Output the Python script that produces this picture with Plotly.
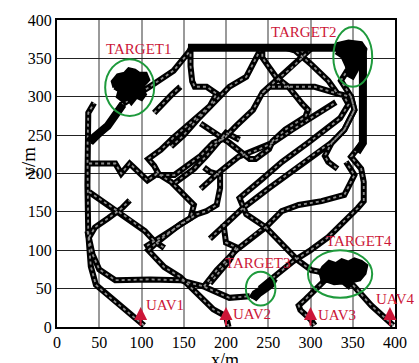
import plotly.graph_objects as go

# ---------------- trajectory data (x/m, y/m) ----------------
uav1_x = [103, 80, 61, 46, 40, 37, 36, 36, 37, 44]
uav1_y = [2, 23, 40, 55, 79, 121, 185, 228, 279, 292]

main_x = [40, 60, 77, 95, 115, 138, 154, 160, 250, 359, 363, 363, 362, 348, 360, 363, 363, 356, 340, 321, 300, 280, 262, 248, 240]
main_y = [240, 262, 290, 302, 317, 334, 355, 364, 364, 364, 350, 300, 241, 222, 206, 189, 164, 155, 138, 117, 100, 86, 70, 58, 50]

uav2_x = [203, 200, 185, 166, 146, 127, 108, 118, 131, 146, 166, 177, 189, 193, 193, 181, 174]
uav2_y = [0, 14, 23, 44, 65, 78, 100, 110, 121, 134, 147, 151, 159, 181, 198, 202, 208]

zig_x = [38, 69, 76, 86, 107, 119, 135, 154, 162, 158, 135, 115, 104]
zig_y = [213, 213, 200, 213, 191, 200, 189, 168, 159, 142, 125, 112, 104]

loop_x = [158, 158, 160, 163, 177, 189, 181, 166, 150, 138, 123, 108, 115, 121, 139, 154, 170, 185, 197, 212, 232, 243, 259, 278, 294, 302]
loop_y = [364, 340, 320, 313, 313, 304, 288, 274, 258, 247, 231, 219, 210, 198, 198, 210, 223, 240, 245, 262, 283, 305, 321, 338, 355, 364]

dbl_x = [115, 125, 136, 146]
dbl_y = [279, 291, 303, 313]

ne1_x = [135, 150, 166, 174, 189, 204, 224, 236, 242]
ne1_y = [235, 250, 270, 279, 296, 313, 326, 351, 364]

ne3_x = [140, 146, 162, 177, 187, 200, 216]
ne3_y = [188, 193, 206, 223, 236, 253, 244]

nwse_x = [243, 243, 259, 274, 290, 297, 294, 270, 255, 251, 235, 228, 204, 185, 170]
nwse_y = [364, 351, 326, 313, 291, 283, 274, 257, 242, 232, 219, 219, 240, 255, 265]

uav4_x = [398, 385, 372, 359, 350, 330, 301, 285, 270, 247, 224, 216, 243, 266, 297, 318, 335, 345, 340]
uav4_y = [2, 15, 28, 44, 55, 68, 74, 87, 104, 130, 147, 168, 193, 215, 240, 257, 272, 290, 300]

ne2_x = [181, 200, 220, 251, 282, 313, 325, 340, 352, 348, 336, 344]
ne2_y = [115, 134, 155, 181, 206, 232, 240, 257, 283, 300, 321, 335]

g2_x = [174, 189, 212, 239, 247, 266, 286, 313, 340, 352, 342]
g2_y = [53, 74, 100, 125, 130, 151, 159, 164, 172, 198, 215]

drop_x = [197, 200, 212, 204, 181]
drop_y = [134, 110, 104, 87, 57]

lowloop_x = [36, 42, 50, 69, 110, 146, 173, 190, 204, 228]
lowloop_y = [125, 95, 75, 61, 62, 61, 53, 45, 38, 40]

nwl_x = [38, 61, 84, 104, 115, 127]
nwl_y = [176, 159, 142, 125, 112, 103]

nel_x = [38, 45, 61, 77, 86]
nel_y = [117, 130, 142, 155, 165]

topr_x = [270, 282, 301, 321, 332, 348, 352, 340, 325, 317, 321, 332]
topr_y = [364, 360, 342, 321, 304, 300, 283, 257, 240, 223, 215, 206]

hor_x = [243, 251, 282, 305, 332]
hor_y = [305, 313, 313, 313, 304]

mid_x = [170, 190, 215, 240, 255, 278, 297, 317, 330]
mid_y = [180, 200, 222, 232, 240, 257, 270, 283, 293]

uav3_x = [305, 300, 288, 286, 294, 305, 318, 330]
uav3_y = [2, 10, 22, 28, 36, 48, 62, 72]

# solid heavy parts of the tracks
heavy_x = [38, 60, 78, None, 155, 362, None, 362, 362, 355]
heavy_y = [242, 262, 290, None, 364, 364, None, 364, 240, 228]

# target dwell regions (dense loitering)
t1_x = [68, 66, 72, 80, 85, 92, 97, 105, 108, 103, 100, 104, 100, 94, 88, 84, 78, 72, 74, 68]
t1_y = [312, 320, 328, 330, 336, 334, 330, 330, 322, 316, 310, 303, 297, 300, 292, 298, 295, 300, 308, 312]
t2_x = [330, 345, 360, 365, 363, 358, 355, 350, 345, 343, 338, 330]
t2_y = [368, 372, 370, 362, 352, 345, 335, 325, 328, 340, 352, 358]
t3_x = [229, 233, 240, 247, 254, 258, 255, 248, 240, 234]
t3_y = [38, 45, 50, 57, 63, 60, 54, 48, 42, 35]
t4_x = [310, 315, 322, 330, 337, 345, 352, 360, 366, 364, 358, 350, 345, 338, 328, 320, 312]
t4_y = [68, 78, 85, 82, 87, 84, 88, 85, 80, 70, 62, 60, 52, 58, 57, 60, 60]

# target ellipses: centre and half axes
ell_cx = [86, 350, 241, 335]
ell_cy = [312, 352, 50, 69]
ell_rx = [29, 23, 17.5, 38]
ell_ry = [37, 39, 22, 31]

target_names = ["TARGET1", "TARGET2", "TARGET3", "TARGET4"]
target_lx = [97, 292, 237, 357]
target_ly = [362, 385, 83, 112]

uav_names = ["UAV1", "UAV2", "UAV3", "UAV4"]
uav_start_x = [99, 200, 300, 394]
uav_lx = [103, 206, 307, 375]
uav_ly = [29, 17, 15, 36]

tick_vals = [0, 50, 100, 150, 200, 250, 300, 350, 400]

tracks = [
    (uav1_x, uav1_y), (main_x, main_y), (uav2_x, uav2_y), (zig_x, zig_y),
    (loop_x, loop_y), (dbl_x, dbl_y), (ne1_x, ne1_y), (ne3_x, ne3_y), (nwse_x, nwse_y),
    (uav4_x, uav4_y), (ne2_x, ne2_y), (g2_x, g2_y), (drop_x, drop_y), (lowloop_x, lowloop_y),
    (nwl_x, nwl_y), (nel_x, nel_y), (topr_x, topr_y), (hor_x, hor_y),
    (mid_x, mid_y), (uav3_x, uav3_y),
]

RED = "#cc1638"
GREEN = "#1e9a3c"
SERIF = "Liberation Serif"

fig = go.Figure()
for tx, ty in tracks:
    fig.add_trace(go.Scatter(x=tx, y=ty, mode="lines",
                             line=dict(color="black", width=6),
                             hoverinfo="skip", showlegend=False))
for tx, ty in tracks:
    fig.add_trace(go.Scatter(x=tx, y=ty, mode="lines",
                             line=dict(color="#8c8c8c", width=1.8, dash="dot"),
                             hoverinfo="skip", showlegend=False))
fig.add_trace(go.Scatter(x=heavy_x, y=heavy_y, mode="lines",
                         line=dict(color="black", width=8),
                         hoverinfo="skip", showlegend=False))
for bx, by in [(t1_x, t1_y), (t2_x, t2_y), (t3_x, t3_y), (t4_x, t4_y)]:
    fig.add_trace(go.Scatter(x=bx, y=by, mode="lines", fill="toself",
                             fillcolor="black", line=dict(color="black", width=4),
                             hoverinfo="skip", showlegend=False))

shapes = []
for cx, cy, rx, ry in zip(ell_cx, ell_cy, ell_rx, ell_ry):
    shapes.append(dict(type="circle", xref="x", yref="y",
                       x0=cx - rx, x1=cx + rx, y0=cy - ry, y1=cy + ry,
                       line=dict(color=GREEN, width=2)))

annotations = []
for name, lx, ly in zip(target_names, target_lx, target_ly):
    annotations.append(dict(x=lx, y=ly, xref="x", yref="y", text=name,
                            showarrow=False, font=dict(family=SERIF, size=15, color=RED)))
for name, sx, lx, ly in zip(uav_names, uav_start_x, uav_lx, uav_ly):
    annotations.append(dict(x=sx, y=26, ax=sx, ay=0, xref="x", yref="y",
                            axref="x", ayref="y", text="", showarrow=True,
                            arrowhead=2, arrowsize=1.3, arrowwidth=2, arrowcolor=RED))
    annotations.append(dict(x=lx, y=ly, xref="x", yref="y", text=name,
                            xanchor="left", showarrow=False,
                            font=dict(family=SERIF, size=15, color=RED)))
annotations.append(dict(x=-0.122, y=0.54, xref="paper", yref="paper", text="y/m",
                        textangle=-90, showarrow=False,
                        font=dict(family=SERIF, size=19, color="black")))
annotations.append(dict(x=0.497, y=-0.069, xref="paper", yref="paper", text="x/m",
                        showarrow=False, yanchor="top",
                        font=dict(family=SERIF, size=18, color="black")))

fig.update_layout(
    width=419, height=363,
    margin=dict(l=57, r=18, t=15, b=35),
    paper_bgcolor="white", plot_bgcolor="white",
    shapes=shapes, annotations=annotations,
    showlegend=False,
    xaxis=dict(range=[0, 400], tickvals=tick_vals, ticktext=[str(v) for v in tick_vals],
               showgrid=True, gridcolor="#9a9a9a", gridwidth=1.5,
               showline=True, linecolor="black", linewidth=2, mirror=True,
               zeroline=False, ticks="", tickfont=dict(family=SERIF, size=16, color="black")),
    yaxis=dict(range=[0, 400], tickvals=tick_vals, ticktext=[str(v) for v in tick_vals],
               showgrid=True, gridcolor="#222222", gridwidth=1,
               showline=True, linecolor="black", linewidth=2, mirror=True,
               zeroline=False, ticks="", tickfont=dict(family=SERIF, size=16, color="black")),
)

fig.write_html("out.html", config={"displayModeBar": False},
               post_script="document.body.style.margin='0';document.body.style.overflow='hidden';")
